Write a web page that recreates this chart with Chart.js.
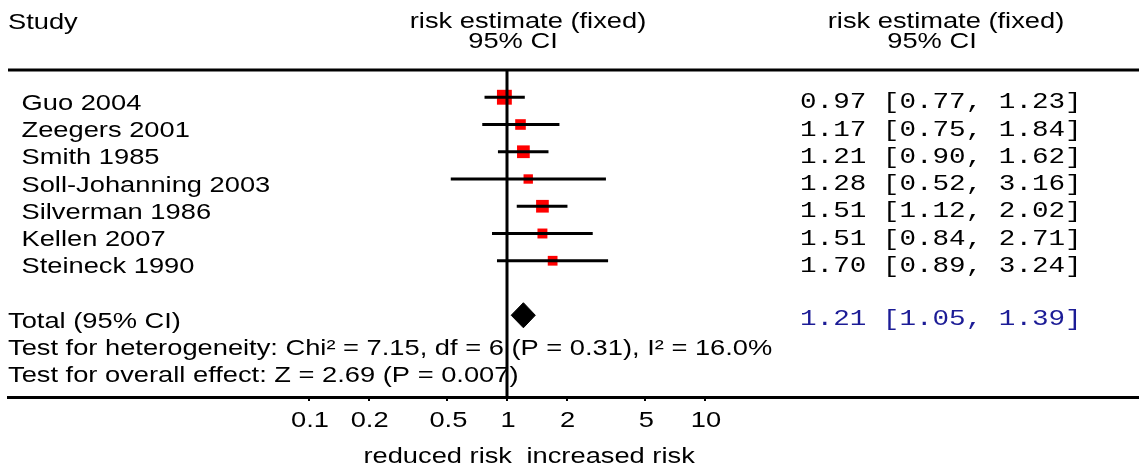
<!DOCTYPE html>
<html>
<head>
<meta charset="utf-8">
<script src="https://cdn.jsdelivr.net/npm/chart.js@4.4.0/dist/chart.umd.min.js"></script>
<style>
html, body { margin: 0; padding: 0; background: #fff; overflow: hidden; }
#wrap { width: 1139px; height: 472px; }
</style>
</head>
<body>
<div id="wrap"><canvas id="forestCanvas"></canvas></div>
<script>
var studies = ['Guo 2004', 'Zeegers 2001', 'Smith 1985', 'Soll-Johanning 2003', 'Silverman 1986', 'Kellen 2007', 'Steineck 1990'];
var estimates = [0.97, 1.17, 1.21, 1.28, 1.51, 1.51, 1.70];
var lowerCI = [0.77, 0.75, 0.90, 0.52, 1.12, 0.84, 0.89];
var upperCI = [1.23, 1.84, 1.62, 3.16, 2.02, 2.71, 3.24];
// study weights (%)
var weights = [34.6, 9.4, 21.9, 2.3, 21.7, 5.5, 4.5];
var totalEstimate = 1.21;
var totalLower = 1.05;
var totalUpper = 1.39;
var tickValues = [0.1, 0.2, 0.5, 1, 2, 5, 10];
var tickLabels = ['0.1', '0.2', '0.5', '1', '2', '5', '10'];
var headerStudy = 'Study';
var headerEstimate = ['risk estimate (fixed)', '95% CI'];
var totalLabel = 'Total (95% CI)';
var heterogeneityText = 'Test for heterogeneity: Chi\u00b2 = 7.15, df = 6 (P = 0.31), I\u00b2 = 16.0%';
var overallText = 'Test for overall effect: Z = 2.69 (P = 0.007)';
var favoursLeft = 'reduced risk';
var favoursRight = 'increased risk';

var TOTAL_ROW = 8;
var SANS = '22px "Liberation Sans", Arial, sans-serif';
var MONO = '22px "Liberation Mono", "Courier New", monospace';
// the original picture is stretched sideways
var SX = 1.24;
var SX_MONO = 1.255;

function ciText(est, lo, hi) {
    return est.toFixed(2) + ' [' + lo.toFixed(2) + ', ' + hi.toFixed(2) + ']';
}

function wideText(ctx, text, x, y, align, sx) {
    ctx.save();
    ctx.translate(x, y);
    ctx.scale(sx, 1);
    ctx.textAlign = align;
    ctx.textBaseline = 'alphabetic';
    ctx.fillText(text, 0, 0);
    ctx.restore();
}

var ciData = [];
var boxData = [];
var boxSizes = [];
for (var i = 0; i < studies.length; i++) {
    ciData.push({x: lowerCI[i], y: i}, {x: upperCI[i], y: i}, {x: null, y: null});
    boxData.push({x: estimates[i], y: i});
    boxSizes.push((9 + 0.17 * weights[i]) / Math.SQRT2);
}

var dh = 0.46;
var diamondData = [
    {x: totalLower, y: TOTAL_ROW},
    {x: totalEstimate, y: TOTAL_ROW - dh},
    {x: totalUpper, y: TOTAL_ROW},
    {x: totalEstimate, y: TOTAL_ROW + dh},
    {x: totalLower, y: TOTAL_ROW}
];

var forestText = {
    id: 'forestText',
    beforeDatasetsDraw: function(chart) {
        var ctx = chart.ctx;
        var area = chart.chartArea;
        var ys = chart.scales.y;
        var px1 = chart.scales.x.getPixelForValue(1);
        ctx.save();
        ctx.strokeStyle = '#000';
        ctx.lineWidth = 3;
        ctx.beginPath();
        ctx.moveTo(area.left, area.top);
        ctx.lineTo(area.right, area.top);
        ctx.stroke();

        ctx.fillStyle = '#000';
        ctx.font = SANS;
        wideText(ctx, headerStudy, 8, 29, 'left', SX);
        wideText(ctx, headerEstimate[0], px1 + 21, 28, 'center', SX);
        wideText(ctx, headerEstimate[1], px1 + 6, 48, 'center', SX);
        wideText(ctx, headerEstimate[0], 946, 28, 'center', SX);
        wideText(ctx, headerEstimate[1], 932, 48, 'center', SX);

        for (var i = 0; i < studies.length; i++) {
            wideText(ctx, studies[i], 21.5, ys.getPixelForValue(i) + 12.5, 'left', SX);
        }
        wideText(ctx, totalLabel, 8, ys.getPixelForValue(TOTAL_ROW) + 13, 'left', SX);
        wideText(ctx, heterogeneityText, 8, ys.getPixelForValue(TOTAL_ROW + 1) + 12.7, 'left', SX);
        wideText(ctx, overallText, 8, ys.getPixelForValue(TOTAL_ROW + 2) + 12.7, 'left', SX);

        ctx.font = MONO;
        for (var j = 0; j < studies.length; j++) {
            wideText(ctx, ciText(estimates[j], lowerCI[j], upperCI[j]), 800, ys.getPixelForValue(j) + 11, 'left', SX_MONO);
        }
        ctx.fillStyle = '#1c1c96';
        wideText(ctx, ciText(totalEstimate, totalLower, totalUpper), 800, ys.getPixelForValue(TOTAL_ROW) + 10, 'left', SX_MONO);
        ctx.restore();
    },
    afterDraw: function(chart) {
        var ctx = chart.ctx;
        var xs = chart.scales.x;
        ctx.save();
        ctx.fillStyle = '#000';
        ctx.font = SANS;
        // tick labels at the scale's own tick positions
        xs.ticks.forEach(function(t) {
            var k = tickValues.indexOf(t.value);
            wideText(ctx, tickLabels[k], xs.getPixelForValue(t.value) + 1, 427, 'center', SX);
        });
        wideText(ctx, favoursLeft, 512, 463, 'right', SX);
        wideText(ctx, favoursRight, 526.5, 463, 'left', SX);
        ctx.restore();
    }
};

const ctxForest = document.getElementById('forestCanvas').getContext('2d');
const chartForest = new Chart(ctxForest, {
    type: 'scatter',
    data: {
        datasets: [{
            label: 'no effect',
            data: [{x: 1, y: -1}, {x: 1, y: 11}],
            showLine: true,
            borderColor: '#000',
            borderWidth: 3,
            pointRadius: 0,
            order: 0
        }, {
            label: 'CI',
            data: ciData,
            showLine: true,
            borderColor: '#000',
            borderWidth: 3,
            pointRadius: 0,
            order: 1
        }, {
            label: 'estimate',
            data: boxData,
            pointStyle: 'rect',
            pointRadius: boxSizes,
            backgroundColor: '#ff0000',
            borderWidth: 0,
            order: 2
        }, {
            label: 'total',
            data: diamondData,
            showLine: true,
            fill: 'shape',
            borderColor: '#000',
            backgroundColor: '#000',
            borderWidth: 1,
            pointRadius: 0,
            tension: 0,
            order: 1
        }]
    },
    options: {
        responsive: true,
        maintainAspectRatio: false,
        animation: false,
        layout: {
            autoPadding: false,
            padding: {left: 8, top: 70, right: 0, bottom: 0}
        },
        plugins: {
            legend: {display: false},
            tooltip: {enabled: false}
        },
        scales: {
            x: {
                type: 'logarithmic',
                position: 'bottom',
                min: Math.pow(10, -2.5202),
                max: Math.pow(10, 3.1919),
                afterBuildTicks: function(scale) {
                    scale.ticks = tickValues.map(function(v) { return {value: v}; });
                },
                afterFit: function(scale) {
                    scale.height = 75;
                },
                ticks: {
                    display: false,
                    autoSkip: false
                },
                grid: {
                    drawOnChartArea: false,
                    drawTicks: true,
                    tickLength: 4,
                    color: '#000',
                    lineWidth: 2
                },
                border: {display: true, color: '#000', width: 3}
            },
            y: {
                type: 'linear',
                display: false,
                reverse: true,
                min: -1,
                max: 11
            }
        }
    },
    plugins: [forestText]
});
</script>
</body>
</html>
